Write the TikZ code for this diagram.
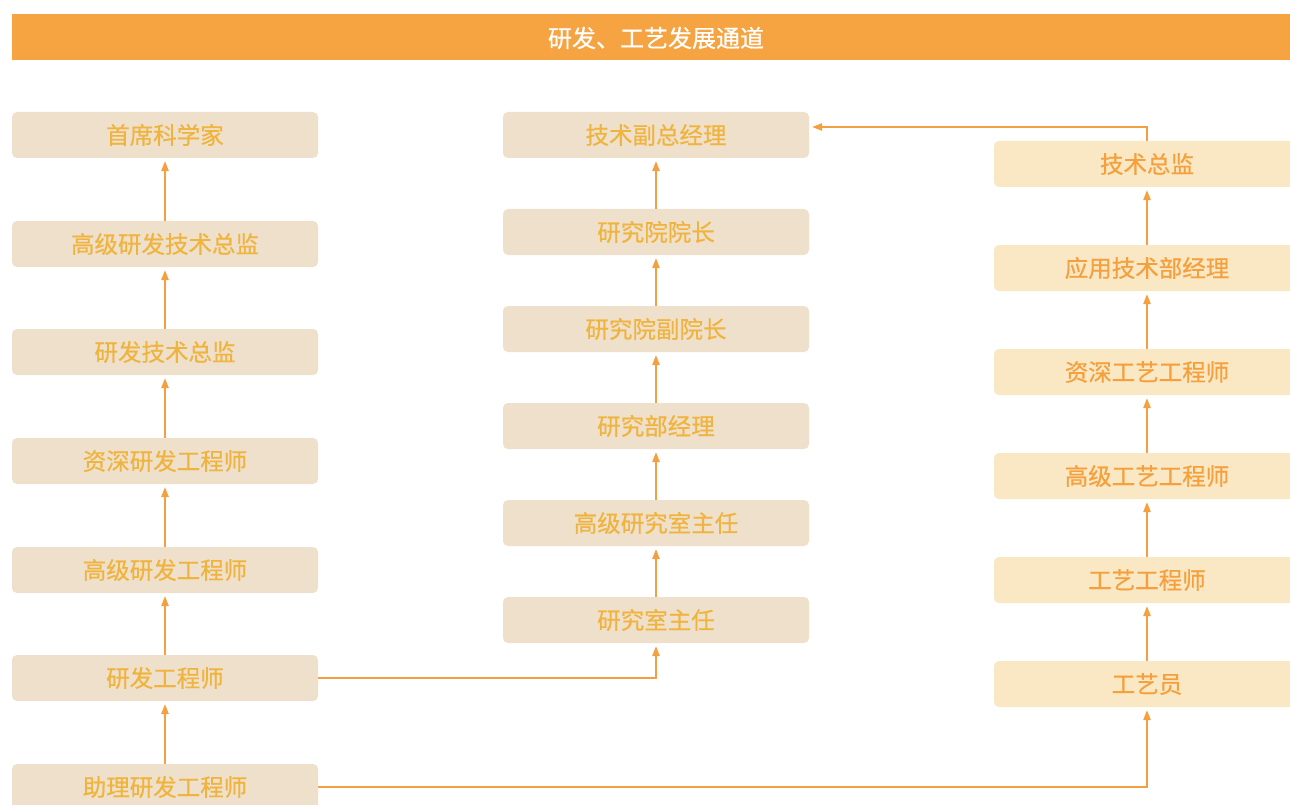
\documentclass[tikz,border=0pt]{standalone}
\usepackage{fontspec}
\setmainfont{Noto Sans CJK SC}
\newfontfamily\medf[FakeBold=0.6]{Noto Sans CJK SC}
\usetikzlibrary{arrows.meta,positioning}
\definecolor{hdr}{HTML}{F6A341}
\definecolor{boxA}{HTML}{EFE0CB}
\definecolor{txtA}{HTML}{EFB43E}
\definecolor{boxB}{HTML}{FAE8C4}
\definecolor{txtB}{HTML}{F5A03C}
\definecolor{lnk}{HTML}{F5A040}
\tikzset{
  boxa/.style={rounded corners=5pt, fill=boxA, minimum width=306pt, minimum height=46pt, inner sep=0pt, text=txtA, font=\medf\fontsize{23.5}{26}\selectfont},
  boxb/.style={rounded corners=5pt, fill=boxB, minimum width=306pt, minimum height=46pt, inner sep=0pt, text=txtB, font=\medf\fontsize{23.5}{26}\selectfont},
  link/.style={draw=lnk, line width=1.3pt, -{Triangle[length=10pt,width=7.5pt]}, shorten >=3pt}
}
\begin{document}
\begin{tikzpicture}[x=1pt,y=-1pt]
\useasboundingbox (0,0) rectangle (1290,805);
\fill[white] (0,0) rectangle (1290,805);
\node[fill=hdr, minimum width=1278pt, minimum height=46pt, inner sep=0pt, anchor=north west] (hdr) at (12,14) {};
\node[text=white, font=\medf\fontsize{24}{27}\selectfont, inner sep=0pt] (hdrt) at (656,38) {研发、工艺发展通道};
% left column
\node[boxa] (l1) at (165,135) {首席科学家};
\node[boxa] (l2) at (165,244) {高级研发技术总监};
\node[boxa] (l3) at (165,352) {研发技术总监};
\node[boxa] (l4) at (165,461) {资深研发工程师};
\node[boxa] (l5) at (165,570) {高级研发工程师};
\node[boxa] (l6) at (165,678) {研发工程师};
\node[boxa] (l7) at (165,787) {助理研发工程师};
% middle column
\node[boxa] (m1) at (656,135) {技术副总经理};
\node[boxa] (m2) at (656,232) {研究院院长};
\node[boxa] (m3) at (656,329) {研究院副院长};
\node[boxa] (m4) at (656,426) {研究部经理};
\node[boxa] (m5) at (656,523) {高级研究室主任};
\node[boxa] (m6) at (656,620) {研究室主任};
% right column
\node[boxb] (r1) at (1147,164) {技术总监};
\node[boxb] (r2) at (1147,268) {应用技术部经理};
\node[boxb] (r3) at (1147,372) {资深工艺工程师};
\node[boxb] (r4) at (1147,476) {高级工艺工程师};
\node[boxb] (r5) at (1147,580) {工艺工程师};
\node[boxb] (r6) at (1147,684) {工艺员};
% vertical links
\foreach \a/\b in {l2/l1,l3/l2,l4/l3,l5/l4,l6/l5,l7/l6,m2/m1,m3/m2,m4/m3,m5/m4,m6/m5,r2/r1,r3/r2,r4/r3,r5/r4,r6/r5}
  \draw[link] (\a.north) -- (\b.south);
% cross links
\draw[link] (l6.east) -| (m6.south);
\draw[link] (l7.east) -| (r6.south);
\coordinate (c1) at (1147,127);
\draw[link] (r1.north) -- (c1) -- (m1.east |- c1);
\end{tikzpicture}
\end{document}
